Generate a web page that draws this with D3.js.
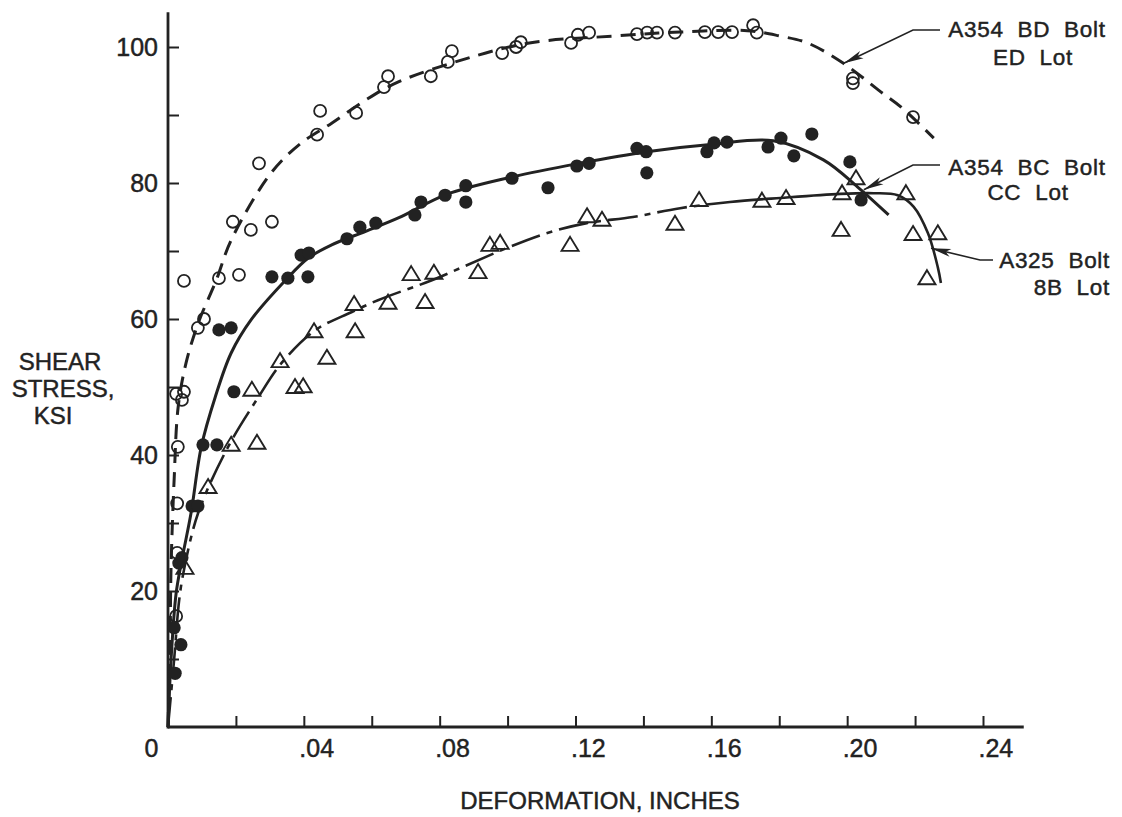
<!DOCTYPE html>
<html><head><meta charset="utf-8">
<script src="https://cdn.jsdelivr.net/npm/d3@7"></script>
<style>
html,body{margin:0;padding:0;background:#fff;}
svg{display:block;}
text{font-family:"Liberation Sans",Arial,sans-serif;fill:#222;stroke:#222;stroke-width:0.45px;}
</style></head><body>
<svg id="c" width="1122" height="817"></svg>
<script>
// ---------- DATA ----------
const xMajorTicks = [0, 0.04, 0.08, 0.12, 0.16, 0.20, 0.24];
const xMinorTicks = [0.02, 0.06, 0.10, 0.14, 0.18, 0.22];
const xTickLabels = ["0", ".04", ".08", ".12", ".16", ".20", ".24"];
const yMajorTicks = [20, 40, 60, 80, 100];
const yMinorTicks = [10, 30, 50, 70, 90];
const yTickLabels = ["20", "40", "60", "80", "100"];

// A354 BD Bolt, ED Lot (open circles)
const bdPoints = [
  [0.0024,16.3],[0.0027,25.6],[0.0027,32.9],[0.0029,41.2],[0.0024,49.0],[0.0047,49.3],[0.0041,48.1],
  [0.0088,58.7],[0.0106,60.0],[0.0047,65.6],[0.0150,66.0],[0.0209,66.5],[0.0191,74.3],[0.0244,73.1],
  [0.0306,74.3],[0.0268,82.9],[0.0439,87.1],[0.0448,90.6],[0.0554,90.3],[0.0636,94.1],[0.0648,95.7],
  [0.0774,95.7],[0.0824,97.8],[0.0836,99.4],[0.0984,99.1],[0.1025,100.0],[0.1039,100.7],[0.1187,100.6],
  [0.1207,101.8],[0.1240,102.1],[0.1381,101.9],[0.1411,102.1],[0.1440,102.1],[0.1493,102.1],
  [0.1581,102.2],[0.1620,102.2],[0.1661,102.2],[0.1723,103.2],[0.1734,102.1],[0.2017,95.4],
  [0.2017,94.7],[0.2194,89.7]
];
const bdCurve = [
  [0,0],[0.0006,12.8],[0.0009,23.5],[0.0018,36.3],[0.0030,47.1],[0.0053,53.5],[0.0089,59.4],
  [0.0142,65.7],[0.0186,71.6],[0.0304,81.5],[0.0393,85.9],[0.0482,88.8],[0.0582,92.2],[0.0680,94.9],
  [0.0866,98.1],[0.1064,100.6],[0.1310,101.6],[0.1508,102.2],[0.1706,102.4],[0.1803,101.6],
  [0.1883,100.6],[0.1989,97.6],[0.2099,93.4],[0.2158,91.2],[0.2255,86.6]
];

// A354 BC Bolt, CC Lot (filled circles)
const bcPoints = [
  [0.0021,7.9],[0.0038,12.1],[0.0018,14.6],[0.0032,24.1],[0.0041,24.9],[0.0071,32.5],[0.0088,32.5],
  [0.0103,41.5],[0.0144,41.5],[0.0194,49.3],[0.0150,58.4],[0.0186,58.7],[0.0306,66.2],[0.0353,66.0],
  [0.0412,66.2],[0.0392,69.4],[0.0415,69.7],[0.0527,71.8],[0.0565,73.5],[0.0612,74.1],[0.0727,75.3],
  [0.0745,77.2],[0.0816,78.2],[0.0877,79.6],[0.0877,77.2],[0.1013,80.7],[0.1119,79.3],[0.1204,82.5],
  [0.1240,82.9],[0.1381,85.1],[0.1408,84.6],[0.1410,81.5],[0.1587,84.6],[0.1608,85.9],[0.1646,86.0],
  [0.1767,85.3],[0.1805,86.6],[0.1843,84.0],[0.1896,87.2],[0.2008,83.1],[0.2041,77.5]
];
const bcCurve = [
  [0,0],[0.0009,9.9],[0.0024,19.7],[0.0041,24.6],[0.0068,31.5],[0.0098,41.2],[0.0139,48.5],
  [0.0186,55.0],[0.0245,59.9],[0.0346,65.7],[0.0414,69.0],[0.0482,70.9],[0.0582,72.9],[0.0680,74.9],
  [0.0819,78.3],[0.1014,80.9],[0.1212,82.9],[0.1410,84.6],[0.1605,85.7],[0.1782,86.2],[0.1930,83.4],
  [0.2031,79.4],[0.2122,75.3]
];

// A325 Bolt, 8B Lot (triangles)
const a325Points = [
  [0.0050,23.4],[0.0118,35.3],[0.0186,41.5],[0.0262,41.8],[0.0247,49.6],[0.0374,50.0],[0.0398,50.1],
  [0.0330,53.8],[0.0468,54.3],[0.0430,58.2],[0.0551,58.2],[0.0548,62.2],[0.0648,62.4],[0.0757,62.5],
  [0.0716,66.6],[0.0783,66.8],[0.0913,66.9],[0.0948,70.9],[0.0978,71.2],[0.1184,70.9],[0.1234,75.1],
  [0.1278,74.6],[0.1493,74.0],[0.1564,77.5],[0.1749,77.4],[0.1820,77.8],[0.1982,73.1],[0.1985,78.5],
  [0.2026,80.7],[0.2173,78.5],[0.2194,72.5],[0.2267,72.6],[0.2235,66.0]
];
const a325Curve = [
  [0,0],[0.0018,9.9],[0.0033,18.7],[0.0047,23.1],[0.0089,31.5],[0.0177,41.2],[0.0266,48.5],
  [0.0334,53.5],[0.0435,58.4],[0.0540,61.0],[0.0620,62.8],[0.0777,65.7],[0.0866,67.6],[0.0996,70.4],
  [0.1114,72.6],[0.1233,74.1],[0.1369,75.0],[0.1508,76.3],[0.1655,77.2],[0.1803,77.8],[0.1980,78.4],
  [0.2078,78.5],[0.2149,78.2],[0.2196,76.5],[0.2238,72.6],[0.2267,67.6],[0.2276,65.3]
];
const a325SolidFrom = 0.17;

const labelLines = [["A354  BD  Bolt", "ED  Lot"], ["A354  BC  Bolt", "CC  Lot"], ["A325  Bolt", "8B  Lot"]];
const labelTips = [[0.199, 97.6], [0.2049, 79.0], [0.2247, 70.4]];

// ---------- LAYOUT ----------
const svg = d3.select("#c");
const ink = "#222";
const x = d3.scaleLinear().domain([0, 0.24]).range([168, 983]);
const y = d3.scaleLinear().domain([0, 100]).range([727, 47]);
const xMax = 0.252, yMax = 105.1;

// Axes lines
svg.append("line").attr("x1", x(0)).attr("x2", x(xMax)).attr("y1", y(0)).attr("y2", y(0))
  .attr("stroke", ink).attr("stroke-width", 2.8);
svg.append("line").attr("x1", x(0)).attr("x2", x(0)).attr("y1", y(0) + 1.4).attr("y2", y(yMax))
  .attr("stroke", ink).attr("stroke-width", 2.8);

// Ticks
const xAx = svg.append("g").attr("transform", `translate(0,${y(0)})`)
  .call(d3.axisBottom(x).tickValues(xMajorTicks).tickSize(-11).tickSizeOuter(0).tickPadding(12)
    .tickFormat((d, i) => xTickLabels[i]));
const xAxMin = svg.append("g").attr("transform", `translate(0,${y(0)})`)
  .call(d3.axisBottom(x).tickValues(xMinorTicks).tickSize(-11).tickSizeOuter(0).tickFormat(""));
const yAx = svg.append("g").attr("transform", `translate(${x(0)},0)`)
  .call(d3.axisLeft(y).tickValues(yMajorTicks).tickSize(-11).tickSizeOuter(0).tickPadding(10)
    .tickFormat((d, i) => yTickLabels[i]));
const yAxMin = svg.append("g").attr("transform", `translate(${x(0)},0)`)
  .call(d3.axisLeft(y).tickValues(yMinorTicks).tickSize(-11).tickSizeOuter(0).tickFormat(""));
[xAx, xAxMin, yAx, yAxMin].forEach(g => {
  g.select(".domain").remove();
  g.selectAll(".tick line").attr("stroke", ink).attr("stroke-width", 2);
  g.selectAll(".tick text").attr("fill", ink).style("font-family", '"Liberation Sans",Arial,sans-serif')
    .style("font-size", "25px");
});
xAx.selectAll(".tick text").attr("text-anchor", "start").attr("dx", (d, i) => i === 0 ? -24 : -5);

// Axis titles
svg.append("text").attr("x", 600).attr("y", 809).attr("text-anchor", "middle")
  .style("font-size", "24px").text("DEFORMATION, INCHES");
const yt = ["SHEAR", "STRESS,", "KSI"];
const ytx = [60, 63, 53];
yt.forEach((t, i) => svg.append("text").attr("x", ytx[i]).attr("y", 370 + i * 27)
  .attr("text-anchor", "middle").style("font-size", "24px").text(t));

// Curves
const line = d3.line().x(d => x(d[0])).y(d => y(d[1])).curve(d3.curveCatmullRom.alpha(0.5));
svg.append("path").attr("d", line(bdCurve)).attr("fill", "none").attr("stroke", ink)
  .attr("stroke-width", 3).attr("stroke-dasharray", "15,9");
svg.append("path").attr("d", line(bcCurve)).attr("fill", "none").attr("stroke", ink)
  .attr("stroke-width", 3);
const aPath = svg.append("path").attr("d", line(a325Curve)).attr("fill", "none").attr("stroke", ink)
  .attr("stroke-width", 2.6);
{
  const node = aPath.node();
  const L = node.getTotalLength();
  const target = x(a325SolidFrom);
  let lo = 0, hi = L;
  for (let k = 0; k < 40; k++) { const m = (lo + hi) / 2; if (node.getPointAtLength(m).x < target) lo = m; else hi = m; }
  const pat = [30, 7, 6, 7];
  const n = Math.floor(lo / 50);
  const arr = [];
  for (let k = 0; k < n; k++) arr.push(...pat);
  arr.push(L, 0);
  aPath.attr("stroke-dasharray", arr.join(","));
}

// Markers
svg.append("g").selectAll("circle").data(bdPoints).join("circle")
  .attr("cx", d => x(d[0])).attr("cy", d => y(d[1])).attr("r", 6)
  .attr("fill", "none").attr("stroke", ink).attr("stroke-width", 1.8);
svg.append("g").selectAll("circle").data(bcPoints).join("circle")
  .attr("cx", d => x(d[0])).attr("cy", d => y(d[1])).attr("r", 6.6).attr("fill", ink);
svg.append("g").selectAll("path").data(a325Points).join("path")
  .attr("transform", d => `translate(${x(d[0])},${y(d[1])})`)
  .attr("d", "M0,-8L8.5,6L-8.5,6Z").attr("fill", "none").attr("stroke", ink).attr("stroke-width", 1.9)
  .attr("stroke-linejoin", "miter");

// Annotations
const elbows = [[913, 30, 940], [913, 165, 940], [980, 260, 993]];
const textPos = [
  [[1027, 37, "middle"], [1033, 65, "middle"]],
  [[1027, 175, "middle"], [1028, 200, "middle"]],
  [[1110, 268, "end"], [1110, 295, "end"]]
];
labelLines.forEach((lines, i) => {
  const tx = x(labelTips[i][0]), ty = y(labelTips[i][1]);
  const [ex, ey, hx] = elbows[i];
  svg.append("path").attr("d", `M${tx},${ty}L${ex},${ey}L${hx},${ey}`).attr("fill", "none")
    .attr("stroke", ink).attr("stroke-width", 1.6);
  const dx = ex - tx, dy = ey - ty, len = Math.hypot(dx, dy);
  const ux = dx / len, uy = dy / len, nx = -uy, ny = ux;
  const bx = tx + ux * 20, by = ty + uy * 20;
  svg.append("path").attr("d", `M${tx},${ty}L${bx + nx * 4},${by + ny * 4}L${tx + ux * 15},${ty + uy * 15}L${bx - nx * 4},${by - ny * 4}Z`)
    .attr("fill", ink);
  lines.forEach((t, j) => {
    const [px, py, anchor] = textPos[i][j];
    svg.append("text").attr("x", px).attr("y", py).attr("text-anchor", anchor)
      .style("font-size", "22.5px").style("white-space", "pre").style("letter-spacing", "0.7px").text(t);
  });
});
</script>
</body></html>
